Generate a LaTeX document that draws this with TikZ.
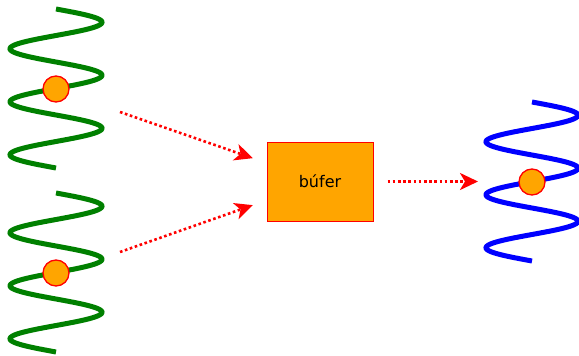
\documentclass[tikz,border=0pt]{standalone}
\usepackage{fontspec}
\setmainfont{DejaVu Sans}
\usetikzlibrary{arrows.meta}
\definecolor{helixgreen}{RGB}{0,128,0}
\definecolor{helixblue}{RGB}{0,0,255}
\definecolor{orangefill}{RGB}{255,165,0}
\begin{document}
\begin{tikzpicture}[x=1pt,y=-1pt,
  helix/.style={line width=5pt, line cap=butt},
  bead/.style={circle, draw=red, fill=orangefill, line width=1.3pt, minimum size=26pt, inner sep=0pt},
  bufbox/.style={draw=red, fill=orangefill, line width=1pt, minimum width=106pt, minimum height=79pt, inner sep=0pt, font=\fontsize{16}{19}\selectfont},
  flow/.style={red, line width=2.6pt, dash pattern=on 2.6pt off 2.6pt, -{Stealth[length=18pt,width=17pt,inset=5pt]}}
]
\useasboundingbox (0,0) rectangle (579,356);
% helices
\draw[helix, helixgreen] plot[domain=0:159, samples=240, smooth] ({56+46*sin(6.7925*\x)}, {9+\x});
\draw[helix, helixgreen] plot[domain=0:159, samples=240, smooth] ({56+46*sin(6.7925*\x)}, {193+\x});
\draw[helix, helixblue] plot[domain=0:159, samples=240, smooth] ({532+46*sin(6.7925*\x)}, {102+\x});
% beads
\node[bead] (b1) at (56,89) {};
\node[bead] (b2) at (56,273) {};
\node[bead] (b3) at (532,182) {};
% buffer
\node[bufbox] (buf) at (320,181.5) {búfer};
% arrows
\coordinate (s1) at (120,112);
\coordinate (s2) at (120,252);
\coordinate (t3) at (478,181.5);
\draw[flow, shorten >=14.5pt] (s1) -- (buf);
\draw[flow, shorten >=14.5pt] (s2) -- (buf);
\draw[flow, shorten <=14pt] (buf.east) -- (t3);
\end{tikzpicture}
\end{document}
